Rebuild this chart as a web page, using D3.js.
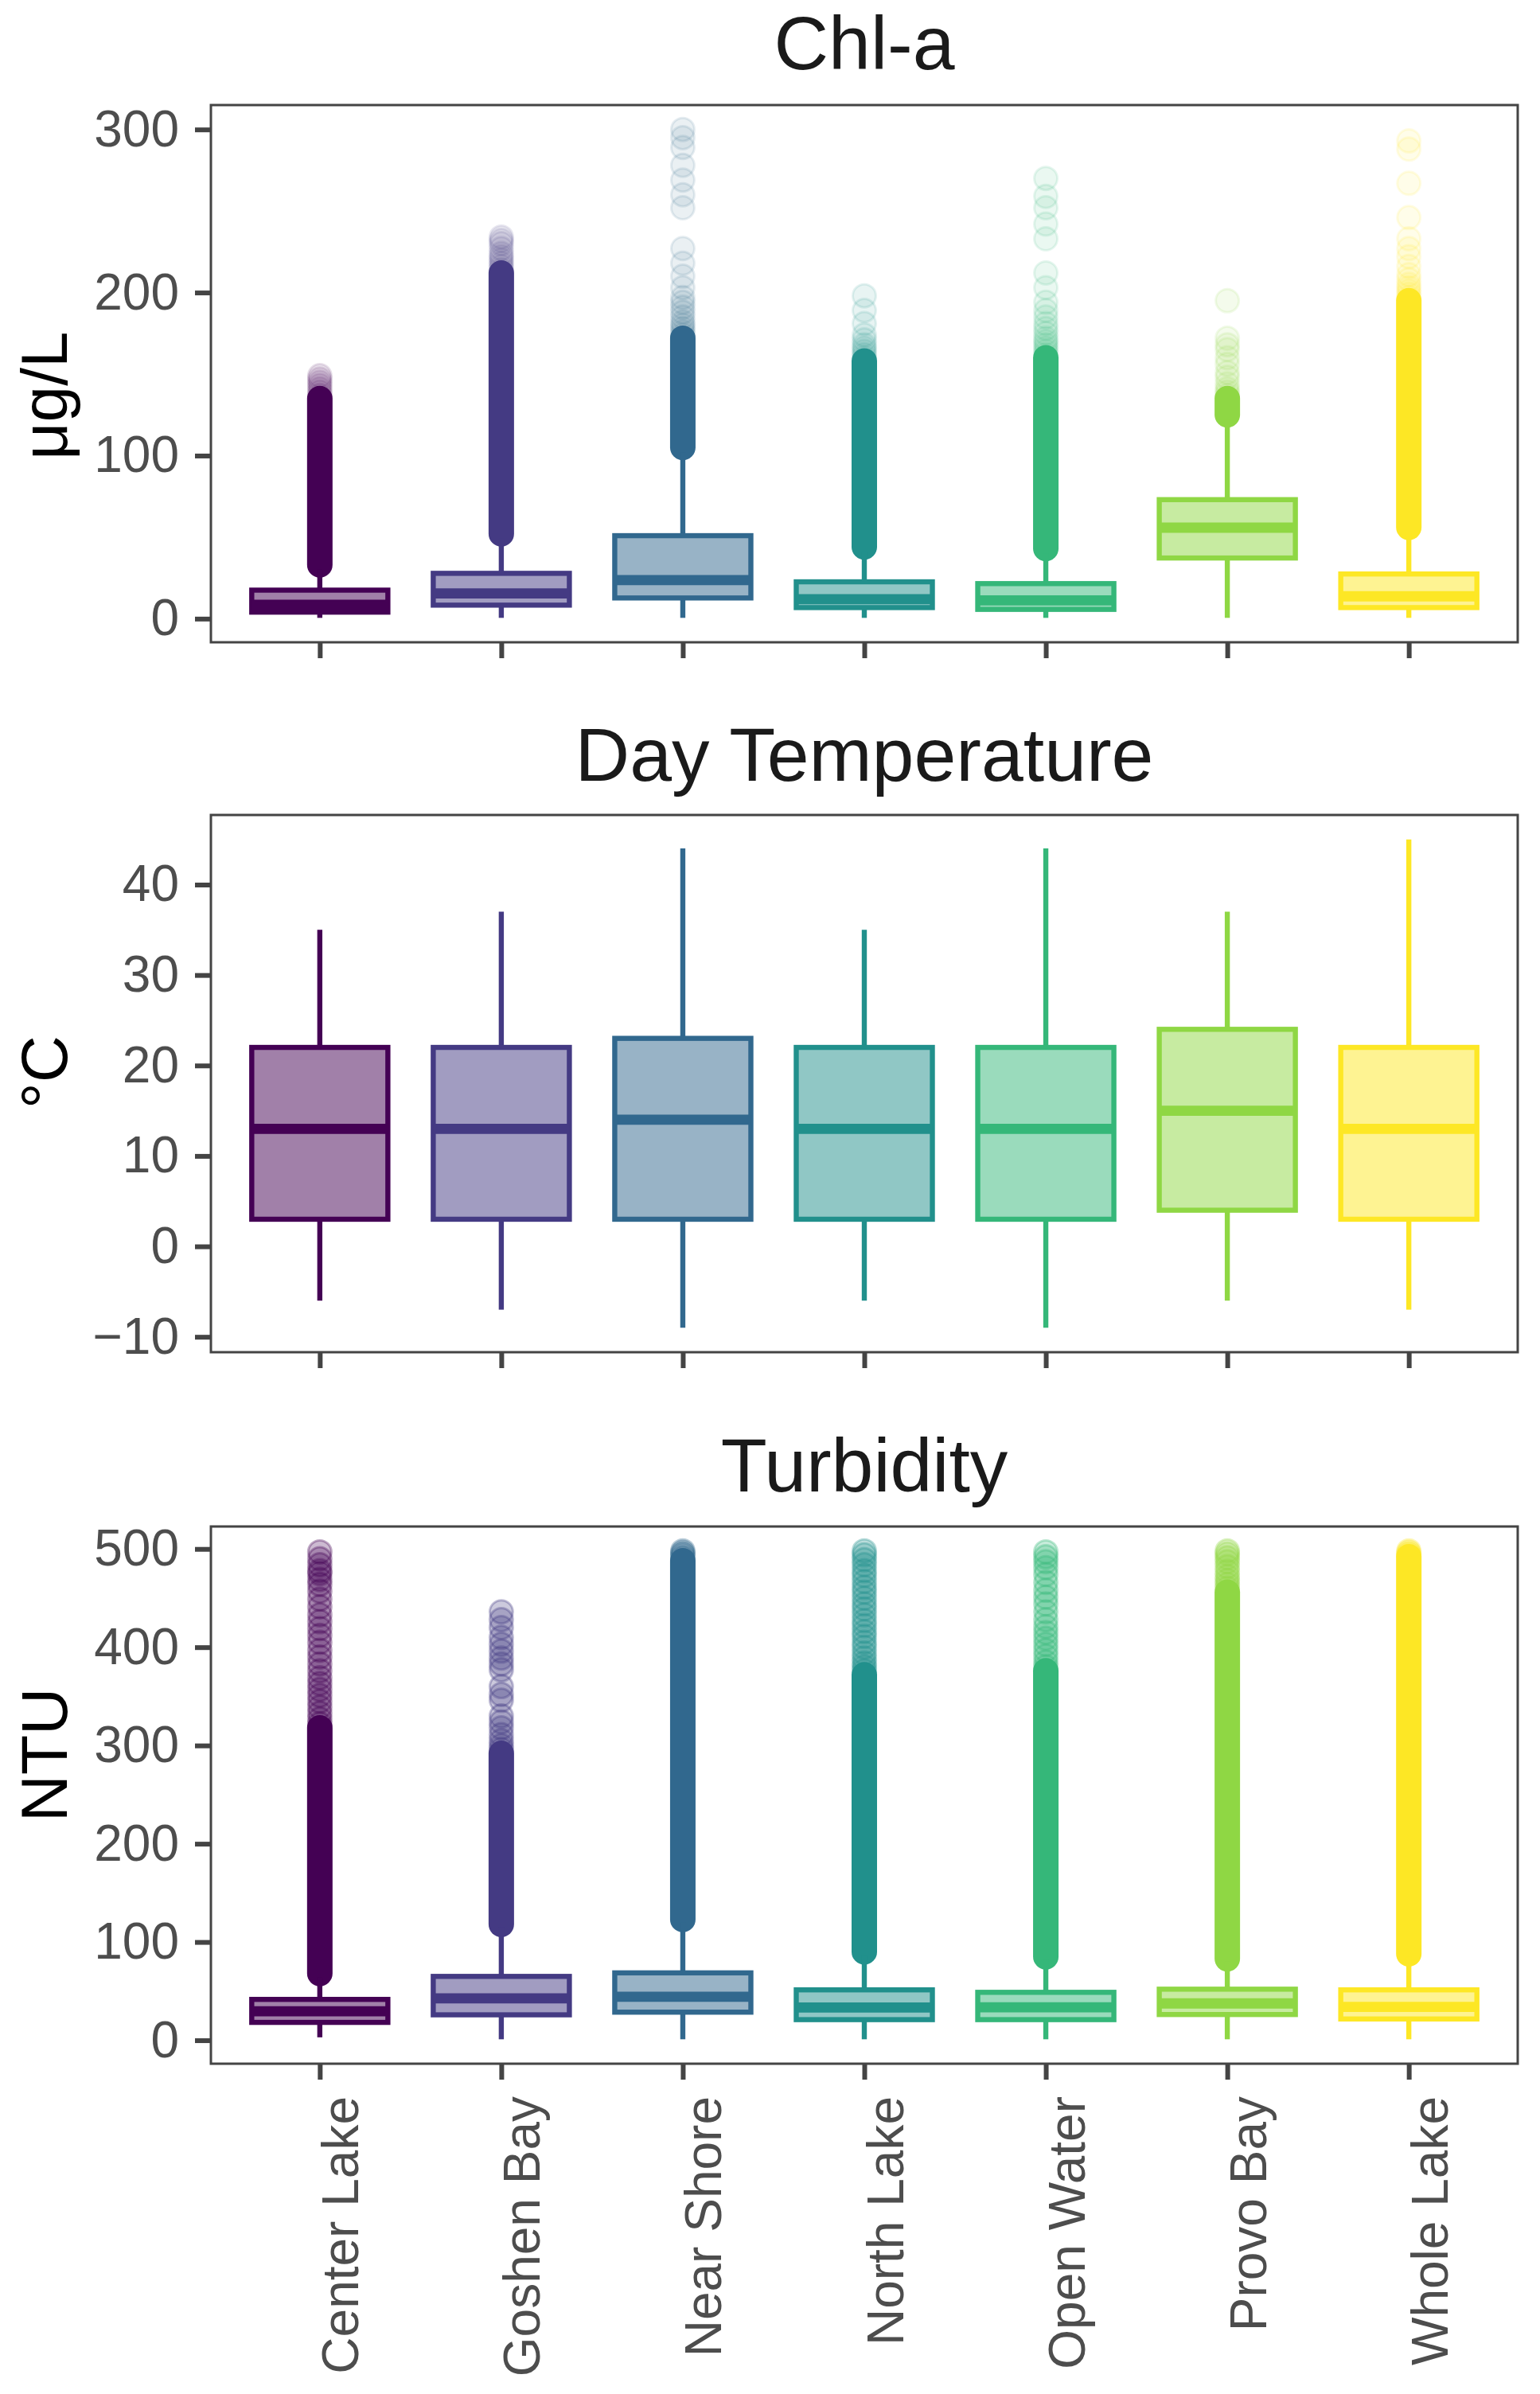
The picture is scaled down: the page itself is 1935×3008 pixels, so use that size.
<!DOCTYPE html>
<html>
<head>
<meta charset="utf-8">
<script src="https://cdn.jsdelivr.net/npm/d3@7"></script>
<style>
  html, body { margin: 0; padding: 0; background: #fff; }
  svg { display: block; font-family: "Liberation Sans", Arial, Helvetica, sans-serif; }
</style>
</head>
<body>
<svg id="chart" width="1935" height="3008"></svg>
<script>
// ---------------- DATA ----------------
const categories = ["Center Lake", "Goshen Bay", "Near Shore", "North Lake", "Open Water", "Provo Bay", "Whole Lake"];
const colors = ["#440154", "#443A83", "#31688E", "#21908C", "#35B779", "#8FD744", "#FDE725"];

// [whisker low, Q1, median, Q3, whisker high]
const chlStats = [
  [0.5, 4, 8.5, 17.5, 30],
  [0.5, 8.3, 15.5, 27.8, 49],
  [0.5, 12.7, 23.7, 50.9, 102],
  [0.5, 6.8, 11.9, 22.6, 41],
  [0.5, 5.7, 11.2, 21.5, 40],
  [0.5, 37.2, 55.8, 73, 122],
  [0.5, 6.8, 13.7, 27.4, 53]
];
// solid (overplotted) outlier runs [from, to]
const chlDense = [[33, 135], [52, 212], [105, 172], [44, 158], [43, 160], [125, 135], [56, 195]];
// individual faint outliers
const chlFaint = [
  [137, 139, 141, 143, 145, 147, 149],
  [214, 216, 218, 220, 222, 224, 227, 230, 232, 234],
  [174, 176, 178, 180, 182, 185, 188, 191, 194, 197, 203, 210, 218, 227, 252, 260, 269, 278, 289, 295, 300],
  [160, 162, 164, 166, 168, 171, 174, 181, 189, 198],
  [162, 164, 166, 168, 170, 172, 175, 178, 181, 185, 189, 194, 203, 212, 233, 242, 252, 259, 270],
  [137, 139, 141, 144, 148, 151, 156, 160, 165, 168, 172, 195],
  [197, 199, 201, 203, 205, 208, 211, 216, 222, 227, 233, 246, 267, 288, 293]
];
const chlTicks = [0, 100, 200, 300];

const tempStats = [
  [-6, 3, 13, 22, 35],
  [-7, 3, 13, 22, 37],
  [-9, 3, 14, 23, 44],
  [-6, 3, 13, 22, 35],
  [-9, 3, 13, 22, 44],
  [-6, 4, 15, 24, 37],
  [-7, 3, 13, 22, 45]
];
const tempDense = [];
const tempFaint = [];
const tempTicks = [-10, 0, 10, 20, 30, 40];

const turbStats = [
  [3, 18.2, 29.5, 41.6, 64],
  [1, 25.9, 42.6, 65, 115],
  [1, 28.6, 44.3, 68.6, 120],
  [1, 21, 33.4, 51.3, 87],
  [1, 21, 33.5, 48.8, 82],
  [1, 26.2, 37.5, 52, 80],
  [1, 21.7, 33.9, 51.3, 85]
];
const turbDense = [[68, 318], [118, 292], [123, 488], [90, 372], [85, 376], [83, 456], [88, 492]];
const turbFaint = [
  [322, 327, 333, 339, 345, 351, 357, 363, 369, 376, 383, 390, 397, 405, 412, 419, 426, 433, 441, 449, 457, 464, 469, 475, 478, 484, 490, 497],
  [296, 300, 305, 311, 318, 324, 330, 346, 352, 360, 377, 383, 389, 396, 403, 410, 420, 428, 436],
  [491, 494, 496, 498],
  [376, 380, 384, 389, 394, 400, 405, 411, 416, 422, 427, 433, 439, 444, 450, 456, 461, 467, 473, 478, 484, 489, 494, 498],
  [380, 385, 391, 397, 403, 409, 415, 421, 428, 436, 444, 451, 458, 466, 474, 481, 487, 492, 497],
  [460, 464, 468, 472, 477, 482, 487, 491, 495, 498],
  [494, 496, 498]
];
const turbTicks = [0, 100, 200, 300, 400, 500];

const panelTitles = ["Chl-a", "Day Temperature", "Turbidity"];
const unitLabels = ["μg/L", "°C", "NTU"];

// ---------------- LAYOUT ----------------
const L = {
  left: 265, right: 1907, height: 675,
  tops: [132, 1024, 1918],
  titleBaselines: [87, 981, 1874],
  unitCenters: [497, 1347, 2205],
  unitX: 84,
  boxStroke: 6.4, medianStroke: 12.8, pointR: 14.5,
  pointAlpha: [0.1, 0.1, 0.27]
};

const panels = [
  { stats: chlStats, dense: chlDense, faint: chlFaint, ticks: chlTicks },
  { stats: tempStats, dense: tempDense, faint: tempFaint, ticks: tempTicks },
  { stats: turbStats, dense: turbDense, faint: turbFaint, ticks: turbTicks }
];

const svg = d3.select("#chart");

// ggplot-like discrete scale: 0.6 units of expansion at each end
const xPos = d3.scalePoint().domain(categories)
  .range([L.left, L.right]).padding(0.6);
const step = xPos.step();
const boxW = step * 0.75;

panels.forEach((p, pi) => {
  const top = L.tops[pi], bottom = top + L.height;
  const vals = [];
  p.stats.forEach(s => vals.push(s[0], s[4]));
  p.dense.forEach(d => vals.push(d[0], d[1]));
  p.faint.forEach(f => f.forEach(v => vals.push(v)));
  const lo = d3.min(vals), hi = d3.max(vals), pad = (hi - lo) * 0.05;
  const y = d3.scaleLinear().domain([lo - pad, hi + pad]).range([bottom, top]);

  const g = svg.append("g");

  // title
  g.append("text")
    .attr("x", (L.left + L.right) / 2).attr("y", L.titleBaselines[pi])
    .attr("text-anchor", "middle").attr("font-size", 95).attr("fill", "#1a1a1a")
    .text(panelTitles[pi]);

  // y axis title
  g.append("text")
    .attr("transform", `translate(${L.unitX},${L.unitCenters[pi]}) rotate(-90)`)
    .attr("text-anchor", "middle").attr("font-size", 82).attr("fill", "#000")
    .text(unitLabels[pi]);

  // y axis
  const yAxis = d3.axisLeft(y).tickValues(p.ticks).tickSize(20).tickPadding(20)
    .tickFormat(d => d < 0 ? "\u2212" + Math.abs(d) : d);
  const ya = g.append("g").attr("transform", `translate(${L.left},0)`).call(yAxis);
  ya.select(".domain").remove();
  ya.selectAll(".tick line").attr("stroke", "#444").attr("stroke-width", 6);
  ya.selectAll(".tick text").attr("font-size", 64).attr("fill", "#4D4D4D")
    .attr("font-family", "Liberation Sans, Arial, sans-serif");

  // x axis ticks (labels only on the bottom panel)
  const xAxis = d3.axisBottom(xPos).tickSize(20).tickPadding(21);
  const xa = g.append("g").attr("transform", `translate(0,${bottom})`).call(xAxis);
  xa.select(".domain").remove();
  xa.selectAll(".tick line").attr("stroke", "#444").attr("stroke-width", 6);
  if (pi === 2) {
    xa.selectAll(".tick text")
      .attr("font-size", 64).attr("fill", "#4D4D4D")
      .attr("font-family", "Liberation Sans, Arial, sans-serif")
      .attr("text-anchor", "end").attr("dy", null).attr("y", null)
      .attr("transform", "translate(48,41) rotate(-90)");
  } else {
    xa.selectAll(".tick text").remove();
  }

  const plot = g.append("g");
  categories.forEach((c, i) => {
    const col = colors[i];
    const cx = xPos(c);
    const a = L.pointAlpha[pi];
    // faint outliers
    (p.faint[i] || []).forEach(v => {
      plot.append("circle").attr("cx", cx).attr("cy", y(v)).attr("r", L.pointR)
        .attr("fill", col).attr("fill-opacity", a)
        .attr("stroke", col).attr("stroke-opacity", a * 1.2).attr("stroke-width", 3);
    });
    // dense outliers (overplotted run)
    if (p.dense[i]) {
      plot.append("line").attr("x1", cx).attr("x2", cx)
        .attr("y1", y(p.dense[i][0])).attr("y2", y(p.dense[i][1]))
        .attr("stroke", col).attr("stroke-width", (L.pointR + 1.5) * 2)
        .attr("stroke-linecap", "round");
    }
    const s = p.stats[i];
    // whiskers
    plot.append("line").attr("x1", cx).attr("x2", cx).attr("y1", y(s[0])).attr("y2", y(s[1]))
      .attr("stroke", col).attr("stroke-width", L.boxStroke);
    plot.append("line").attr("x1", cx).attr("x2", cx).attr("y1", y(s[3])).attr("y2", y(s[4]))
      .attr("stroke", col).attr("stroke-width", L.boxStroke);
    // box
    plot.append("rect").attr("x", cx - boxW / 2).attr("width", boxW)
      .attr("y", y(s[3])).attr("height", y(s[1]) - y(s[3]))
      .attr("fill", "#fff");
    plot.append("rect").attr("x", cx - boxW / 2).attr("width", boxW)
      .attr("y", y(s[3])).attr("height", y(s[1]) - y(s[3]))
      .attr("fill", col).attr("fill-opacity", 0.5)
      .attr("stroke", col).attr("stroke-width", L.boxStroke);
    // median
    plot.append("line").attr("x1", cx - boxW / 2).attr("x2", cx + boxW / 2)
      .attr("y1", y(s[2])).attr("y2", y(s[2]))
      .attr("stroke", col).attr("stroke-width", L.medianStroke);
  });

  // panel border
  g.append("rect").attr("x", L.left).attr("y", top)
    .attr("width", L.right - L.left).attr("height", L.height)
    .attr("fill", "none").attr("stroke", "#444").attr("stroke-width", 3);
});
</script>
</body>
</html>
